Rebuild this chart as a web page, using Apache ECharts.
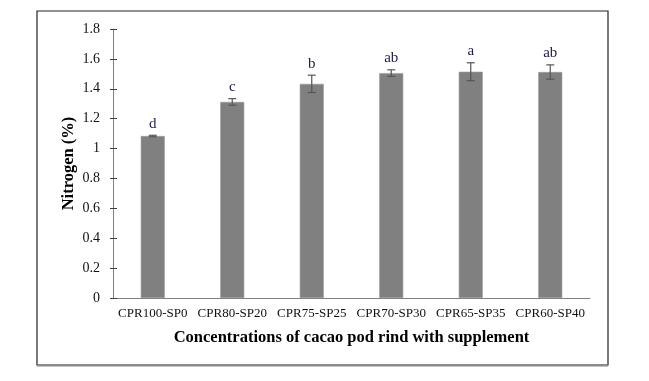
<!DOCTYPE html>
<html>
<head>
<meta charset="utf-8">
<title>Nitrogen</title>
<script src="https://cdn.jsdelivr.net/npm/echarts@6/dist/echarts.min.js"></script>
<style>
    html, body { margin: 0; padding: 0; background: #fff; }
    #main { width: 649px; height: 381px; }
</style>
</head>
<body>
<div id="main"></div>
<script>
    // 数据
    var categories = ['CPR100-SP0', 'CPR80-SP20', 'CPR75-SP25', 'CPR70-SP30', 'CPR65-SP35', 'CPR60-SP40'];
    var nitrogen = [1.084, 1.312, 1.433, 1.505, 1.514, 1.512];
    var errors = [0.005, 0.022, 0.058, 0.022, 0.060, 0.048];
    var letters = ['d', 'c', 'b', 'ab', 'a', 'ab'];
    var yTicks = [0, 0.2, 0.4, 0.6, 0.8, 1, 1.2, 1.4, 1.6, 1.8];

    var serif = 'Liberation Serif, Times New Roman, serif';
    var chart = echarts.init(document.getElementById('main'));

    var errData = categories.map(function (c, i) {
        return [i, nitrogen[i], errors[i], letters[i]];
    });

    var option = {
        animation: false,
        backgroundColor: '#fff',
        grid: { left: 113, right: 59, top: 29, bottom: 83 },
        graphic: [{
            type: 'rect',
            shape: { x: 37, y: 11, width: 571, height: 354 },
            style: { fill: 'none', stroke: '#222', lineWidth: 1.2 },
            z: 0
        }, {
            type: 'line',
            shape: { x1: 37, y1: 365.5, x2: 608, y2: 365.5 },
            style: { stroke: '#8a8a8a', lineWidth: 2 },
            z: 1
        }],
        xAxis: [{
            type: 'category',
            data: categories,
            position: 'bottom',
            axisLine: { lineStyle: { color: '#808080', width: 1 } },
            axisTick: { alignWithLabel: true, length: 4, lineStyle: { color: '#404040' } },
            axisLabel: { fontFamily: serif, fontSize: 13, color: '#111', margin: 9, interval: 0 },
            name: 'Concentrations of cacao pod rind with supplement',
            nameLocation: 'middle',
            nameGap: 31,
            nameMoveOverlap: false,
            nameTextStyle: { fontFamily: serif, fontSize: 16.5, fontWeight: 'bold', color: '#000' }
        }, {
            type: 'category',
            data: categories,
            position: 'bottom',
            axisLine: { show: false },
            axisTick: { alignWithLabel: true, inside: true, length: 4, lineStyle: { color: '#404040' } },
            axisLabel: { show: false }
        }],
        yAxis: [{
            type: 'value',
            min: 0,
            max: 1.8,
            interval: 0.2,
            splitLine: { show: false },
            axisLine: { show: true, lineStyle: { color: '#808080', width: 1 } },
            axisTick: { show: true, length: 3, lineStyle: { color: '#404040' } },
            axisLabel: {
                fontFamily: serif, fontSize: 14, color: '#111', margin: 13,
                formatter: function (v) {
                    var t = yTicks.filter(function (x) { return Math.abs(x - v) < 1e-6; });
                    return t.length ? String(t[0]) : '';
                }
            },
            name: 'Nitrogen (%)',
            nameLocation: 'middle',
            nameGap: 36,
            nameMoveOverlap: false,
            nameTextStyle: { fontFamily: serif, fontSize: 16.5, fontWeight: 'bold', color: '#000' }
        }, {
            type: 'value',
            position: 'left',
            min: 0,
            max: 1.8,
            interval: 0.2,
            splitLine: { show: false },
            axisLine: { show: false },
            axisTick: { show: true, inside: true, length: 4, lineStyle: { color: '#404040' } },
            axisLabel: { show: false }
        }],
        series: [{
            type: 'bar',
            data: nitrogen,
            barWidth: 24,
            itemStyle: { color: '#808080', borderColor: '#9a9a9a', borderWidth: 0.6 }
        }, {
            type: 'custom',
            data: errData,
            z: 10,
            renderItem: function (params, api) {
                var i = api.value(0);
                var v = api.value(1);
                var e = api.value(2);
                var top = api.coord([i, v + e]);
                var bot = api.coord([i, v - e]);
                var cap = 4;
                var st = { stroke: '#555', lineWidth: 1.2 };
                return {
                    type: 'group',
                    children: [
                        { type: 'line', shape: { x1: top[0], y1: top[1], x2: bot[0], y2: bot[1] }, style: st },
                        { type: 'line', shape: { x1: top[0] - cap, y1: top[1], x2: top[0] + cap, y2: top[1] }, style: st },
                        { type: 'line', shape: { x1: bot[0] - cap, y1: bot[1], x2: bot[0] + cap, y2: bot[1] }, style: st },
                        {
                            type: 'text',
                            style: {
                                text: letters[i],
                                x: top[0], y: top[1] - 4,
                                align: 'center', verticalAlign: 'bottom',
                                font: '15px ' + serif,
                                fill: '#1c1c4e'
                            }
                        }
                    ]
                };
            }
        }]
    };
    chart.setOption(option);
</script>
</body>
</html>
